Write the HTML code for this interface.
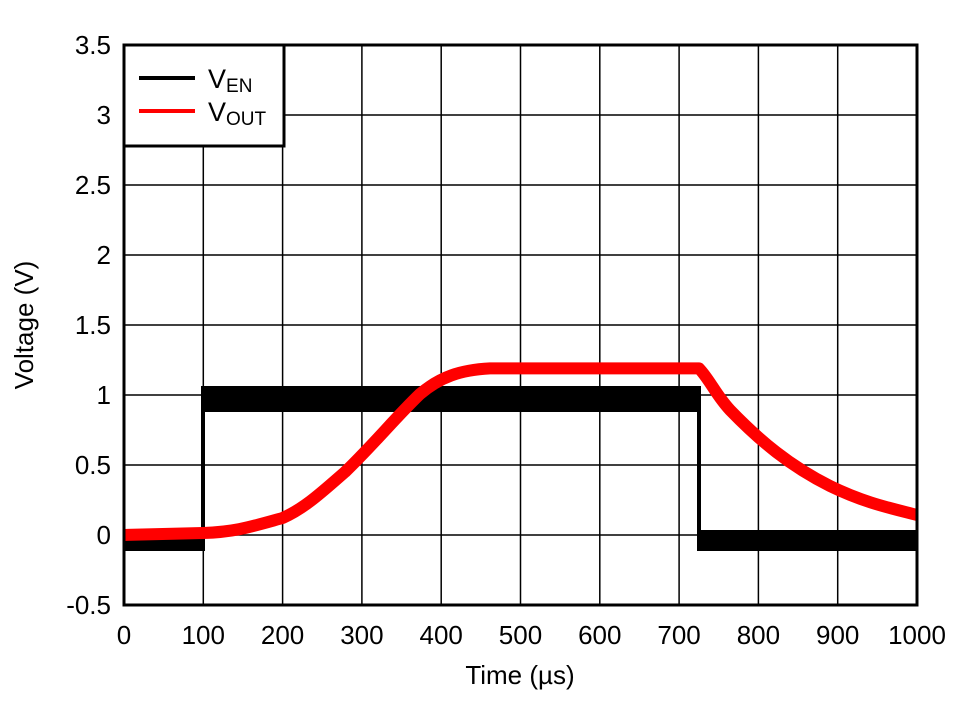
<!DOCTYPE html>
<html><head><style>body{margin:0;background:#fff}</style></head><body>
<svg width="974" height="701" xmlns="http://www.w3.org/2000/svg" font-family="Liberation Sans, Arial, sans-serif">
<rect width="974" height="701" fill="#fff"/>
<g stroke="#000" stroke-width="1.5">
<line x1="203.3" y1="45" x2="203.3" y2="605"/><line x1="282.6" y1="45" x2="282.6" y2="605"/><line x1="361.9" y1="45" x2="361.9" y2="605"/><line x1="441.2" y1="45" x2="441.2" y2="605"/><line x1="520.5" y1="45" x2="520.5" y2="605"/><line x1="599.8" y1="45" x2="599.8" y2="605"/><line x1="679.1" y1="45" x2="679.1" y2="605"/><line x1="758.4" y1="45" x2="758.4" y2="605"/><line x1="837.7" y1="45" x2="837.7" y2="605"/>
<line x1="124" y1="115" x2="917" y2="115"/><line x1="124" y1="185" x2="917" y2="185"/><line x1="124" y1="255" x2="917" y2="255"/><line x1="124" y1="325" x2="917" y2="325"/><line x1="124" y1="395" x2="917" y2="395"/><line x1="124" y1="465" x2="917" y2="465"/><line x1="124" y1="535" x2="917" y2="535"/>
</g>
<rect x="124" y="531" width="80" height="20" fill="#000"/>
<rect x="201" y="386" width="4" height="165" fill="#000"/>
<rect x="203" y="386" width="497" height="26" fill="#000"/>
<rect x="697" y="386" width="4" height="165" fill="#000"/>
<rect x="699" y="530" width="218" height="21" fill="#000"/>
<path fill="none" stroke="#f00" stroke-width="12" stroke-linejoin="round" d="M124,535 L203,533 C235,532 250,527 282.6,518 C305,508 322,492 345,472 C375,443 395,418 420,394 C440,377 460,370 490,368.4 L699,368.4 C710,380 716,395 730,410 C760,441 790,466 830,486 C865,503 890,508 917,515"/>
<rect x="124" y="45" width="793" height="560" fill="none" stroke="#000" stroke-width="3"/>
<rect x="124" y="45" width="160" height="101" fill="#fff" stroke="#000" stroke-width="3"/>
<line x1="139" y1="78" x2="195" y2="78" stroke="#000" stroke-width="4"/>
<line x1="139" y1="111" x2="195" y2="111" stroke="#f00" stroke-width="4"/>
<text x="208" y="88" font-size="27">V<tspan font-size="19" dy="4">EN</tspan></text>
<text x="208" y="121" font-size="27">V<tspan font-size="19" dy="4">OUT</tspan></text>
<g font-size="26" text-anchor="end">
<text x="111" y="54">3.5</text><text x="111" y="124">3</text><text x="111" y="194">2.5</text><text x="111" y="264">2</text><text x="111" y="334">1.5</text><text x="111" y="404">1</text><text x="111" y="474">0.5</text><text x="111" y="544">0</text><text x="111" y="614">-0.5</text>
</g>
<g font-size="26" text-anchor="middle">
<text x="124" y="644">0</text><text x="203.3" y="644">100</text><text x="282.6" y="644">200</text><text x="361.9" y="644">300</text><text x="441.2" y="644">400</text><text x="520.5" y="644">500</text><text x="599.8" y="644">600</text><text x="679.1" y="644">700</text><text x="758.4" y="644">800</text><text x="837.7" y="644">900</text><text x="917" y="644">1000</text>
<text x="520" y="684">Time (µs)</text>
<text transform="translate(33,325) rotate(-90)">Voltage (V)</text>
</g>
</svg>
</body></html>
